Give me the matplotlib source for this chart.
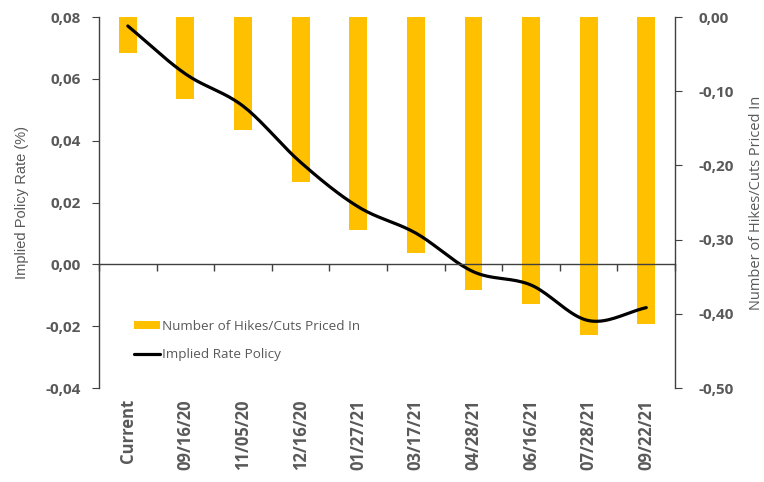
import numpy as np
import matplotlib
matplotlib.use("Agg")
import matplotlib.pyplot as plt
from matplotlib.transforms import blended_transform_factory

plt.rcParams['font.family'] = ['Open Sans', 'DejaVu Sans']

dates = ['Current', '09/16/20', '11/05/20', '12/16/20', '01/27/21',
         '03/17/21', '04/28/21', '06/16/21', '07/28/21', '09/22/21']
hikes_cuts = [-0.048, -0.110, -0.152, -0.223, -0.287,
              -0.318, -0.368, -0.387, -0.428, -0.414]
implied_rate = [0.0771, 0.0616, 0.0512, 0.0330, 0.0186,
                0.0101, -0.0024, -0.0067, -0.0182, -0.0140]

gray = '#595959'
gold = '#FFC000'


def smooth(xs, ys, n=20):
    # Catmull-Rom curve through the points, like Excel's smoothed line
    xs = np.asarray(xs, float)
    ys = np.asarray(ys, float)
    px = np.concatenate([[2 * xs[0] - xs[1]], xs, [2 * xs[-1] - xs[-2]]])
    py = np.concatenate([[2 * ys[0] - ys[1]], ys, [2 * ys[-1] - ys[-2]]])
    out_x, out_y = [], []
    t = np.linspace(0, 1, n, endpoint=False)
    for i in range(1, len(px) - 2):
        for p, out in ((px, out_x), (py, out_y)):
            p0, p1, p2, p3 = p[i - 1], p[i], p[i + 1], p[i + 2]
            out.extend(0.5 * (2 * p1 + (-p0 + p2) * t
                              + (2 * p0 - 5 * p1 + 4 * p2 - p3) * t ** 2
                              + (-p0 + 3 * p1 - 3 * p2 + p3) * t ** 3))
    out_x.append(xs[-1])
    out_y.append(ys[-1])
    return out_x, out_y


def fmt(v):
    s = f'{v:.2f}'.replace('.', ',')
    return '0,00' if s == '-0,00' else s


fig = plt.figure(figsize=(7.64, 4.82), dpi=100)
ax = fig.add_axes([0.1296, 0.195, 0.754, 0.7697])
ax2 = ax.twinx()

x = np.arange(len(dates))

# bars on the right-hand scale, hanging from zero at the top
ax2.bar(x, hikes_cuts, width=0.31, color=gold, zorder=1,
        label='Number of Hikes/Cuts Priced In')
ax2.set_ylim(-0.5, 0)
rt = np.arange(-0.5, 0.001, 0.1)
ax2.set_yticks(rt)
ax2.set_yticklabels([fmt(v) for v in rt])

# line on the left-hand scale, drawn above the bars
ax.set_zorder(ax2.get_zorder() + 1)
ax.patch.set_visible(False)
sx, sy = smooth(x, implied_rate)
ax.plot(sx, sy, color='black', lw=2.3, solid_capstyle='round',
        label='Implied Rate Policy')
ax.set_ylim(-0.04, 0.08)
ax.set_xlim(-0.5, len(dates) - 0.5)
ax2.set_xlim(-0.5, len(dates) - 0.5)
yt = np.arange(-0.04, 0.0801, 0.02)
ax.set_yticks(yt)
ax.set_yticklabels([fmt(v) for v in yt])

# category axis sits on zero, labels stay at the bottom
ax.spines['bottom'].set_position(('data', 0))
ax.set_xticks(np.arange(-0.5, len(dates), 1.0))
ax.set_xticklabels([])
ax.tick_params(axis='x', direction='out', length=5, color='#404040', width=1)
ax.spines['top'].set_visible(False)
ax2.spines['top'].set_visible(False)
ax2.spines['bottom'].set_visible(False)
ax2.spines['left'].set_visible(False)
ax.spines['right'].set_visible(False)
for sp in (ax.spines['left'], ax.spines['bottom'], ax2.spines['right']):
    sp.set_color('#404040')
    sp.set_linewidth(1.0)

trans = blended_transform_factory(ax.transData, ax.transAxes)
for i, d in enumerate(dates):
    ax.text(i, -0.03, d, transform=trans, rotation=90, ha='center', va='top',
            fontsize=12, fontweight='bold', color=gray)

ax.tick_params(axis='y', direction='out', length=5, color='#404040',
               labelsize=11, labelcolor=gray, pad=8)
ax2.tick_params(axis='y', direction='out', length=5, color='#404040',
                labelsize=11, labelcolor=gray, pad=12)
for lab in ax.get_yticklabels() + ax2.get_yticklabels():
    lab.set_fontweight('bold')
ax2.tick_params(axis='x', length=0, labelbottom=False)

ax.set_ylabel('Implied Policy Rate (%)', fontsize=10.5, color=gray,
              family=['Liberation Sans'], labelpad=12)
ax2.set_ylabel('Number of Hikes/Cuts Priced In', fontsize=10.5, color=gray,
               labelpad=11)

h2, l2 = ax2.get_legend_handles_labels()
h1, l1 = ax.get_legend_handles_labels()
leg = fig.legend(h2 + h1, l2 + l1, loc='upper left',
                 bbox_to_anchor=(0.16, 0.362), frameon=False,
                 fontsize=9.7, labelcolor=gray, handlelength=1.9,
                 handleheight=0.5, handletextpad=0.15, labelspacing=1.15)

fig.savefig('out.png', dpi=100)
